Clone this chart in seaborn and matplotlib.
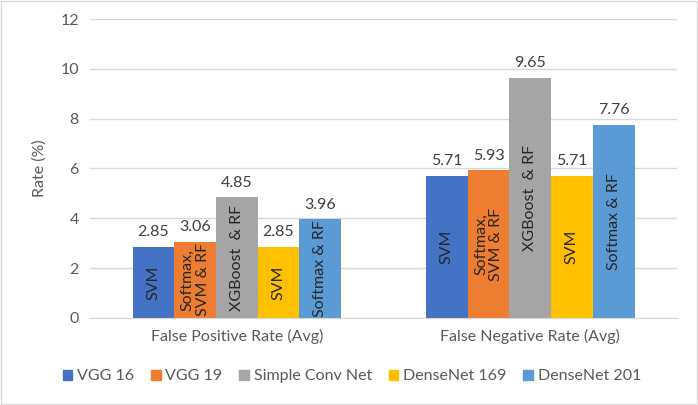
import matplotlib
matplotlib.use("Agg")
import matplotlib.pyplot as plt
import pandas as pd
import seaborn as sns
from matplotlib.patches import Rectangle

metrics = ["False Positive Rate (Avg)", "False Negative Rate (Avg)"]
models = ["VGG 16", "VGG 19", "Simple Conv Net", "DenseNet 169", "DenseNet 201"]
fpr = [2.85, 3.06, 4.85, 2.85, 3.96]
fnr = [5.71, 5.93, 9.65, 5.71, 7.76]
classifiers = ["SVM", "Softmax,\nSVM & RF", "XGBoost  & RF", "SVM", "Softmax & RF"]
colors = ["#4472C4", "#ED7D31", "#A5A5A5", "#FFC000", "#5B9BD5"]

rows = []
for metric, vals in zip(metrics, [fpr, fnr]):
    for model, clf, v in zip(models, classifiers, vals):
        rows.append({"metric": metric, "model": model, "clf": clf, "rate": v})
df = pd.DataFrame(rows)

sns.set_style("white")
plt.rcParams["font.family"] = ["Lato", "DejaVu Sans"]
text_color = "#404040"
fs = 11.5

fig = plt.figure(figsize=(6.98, 4.05), dpi=100)
ax = fig.add_axes([0.129, 0.215, 0.841, 0.738])

sns.barplot(data=df, x="metric", y="rate", hue="model", order=metrics,
            hue_order=models, palette=colors, width=0.71, saturation=1,
            edgecolor="none", ax=ax, legend=False)

ax.set_ylim(0, 12)
ax.set_yticks(range(0, 13, 2))
ax.set_xlim(-0.5, 1.5)
ax.yaxis.grid(True, color="#D9D9D9", linewidth=1)
ax.set_axisbelow(True)
for s in ["left", "right", "top"]:
    ax.spines[s].set_visible(False)
ax.spines["bottom"].set_color("#D9D9D9")
ax.tick_params(axis="both", length=0, labelsize=fs, colors="#595959", pad=8)
ax.set_xlabel("")
ax.set_ylabel("Rate (%)", fontsize=fs, color="#595959", labelpad=10)

for container, model in zip(ax.containers, models):
    idx = models.index(model)
    for bar in container:
        x = bar.get_x() + bar.get_width() / 2
        h = bar.get_height()
        ax.text(x, h + 0.3, f"{h:.2f}", ha="center", va="bottom",
                fontsize=fs, color=text_color)
        ax.text(x, h / 2, classifiers[idx], ha="center", va="center",
                rotation=90, fontsize=fs, color="#262626", linespacing=1.1)

handles = [Rectangle((0, 0), 1, 1, color=c) for c in colors]
fig.legend(handles, models, loc="center", bbox_to_anchor=(0.504, 0.071), ncol=5,
           frameon=False, handlelength=0.6, handleheight=0.6, handletextpad=0.3,
           columnspacing=1.05, fontsize=fs, labelcolor="#595959")

fig.patches.append(Rectangle((0.002, 0.003), 0.996, 0.994, transform=fig.transFigure,
                             fill=False, edgecolor="#D9D9D9", linewidth=1))

fig.savefig("out.png", dpi=100)
